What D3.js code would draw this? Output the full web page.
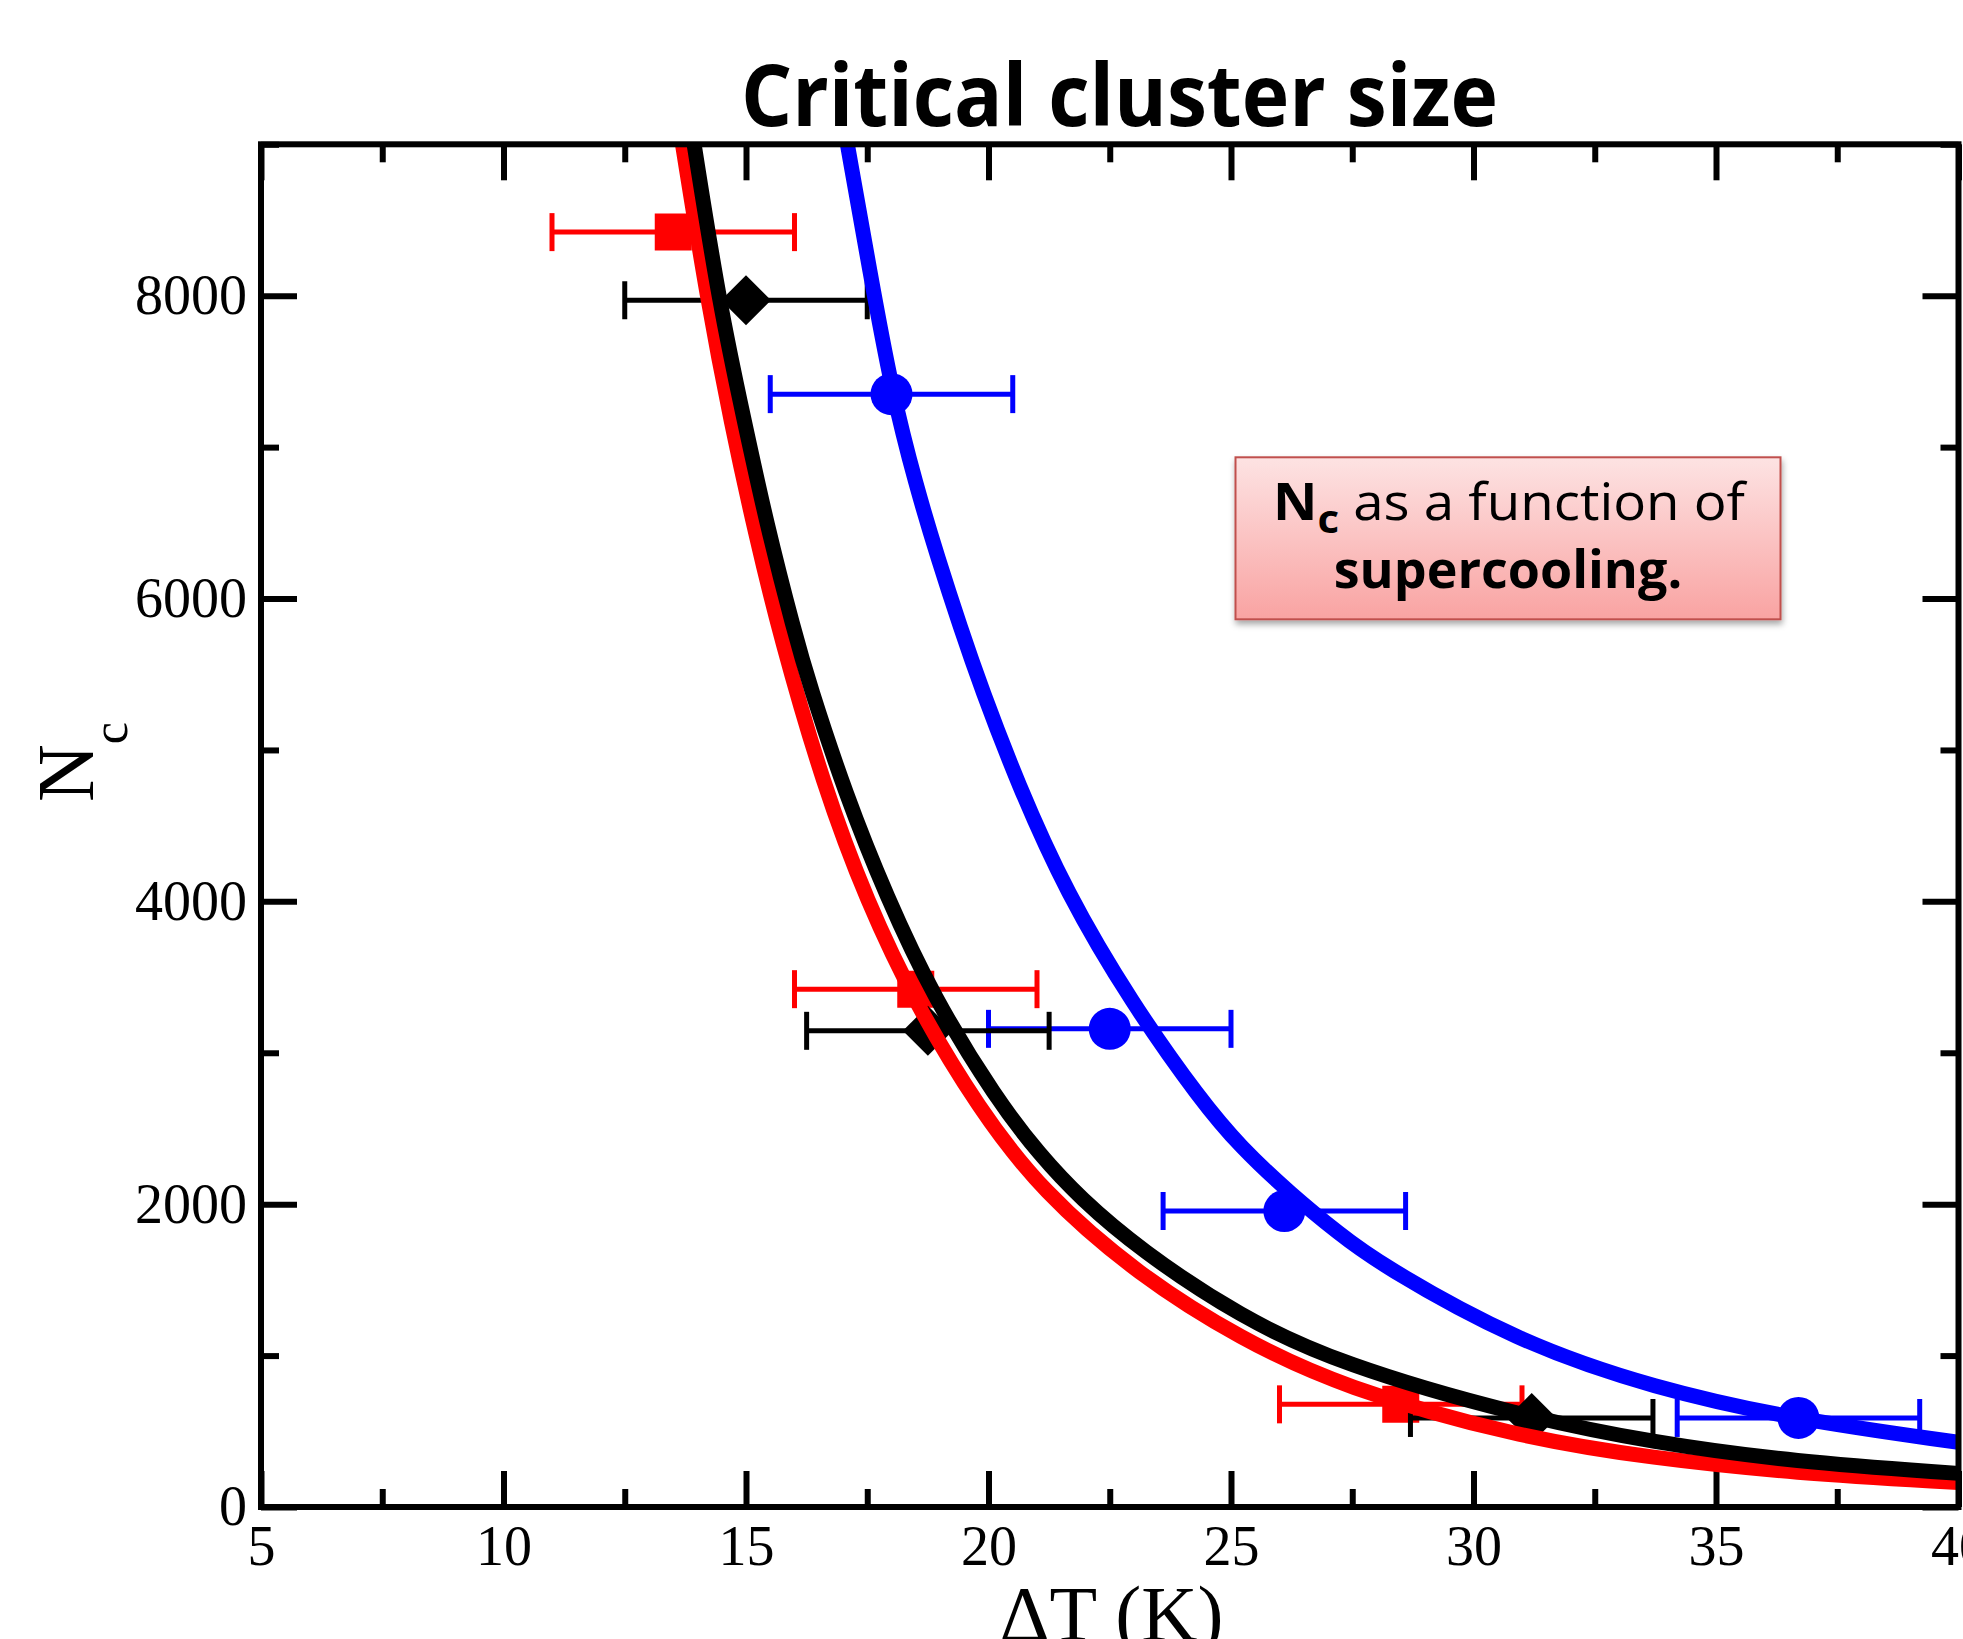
<!DOCTYPE html>
<html>
<head>
<meta charset="utf-8">
<script src="https://cdn.jsdelivr.net/npm/d3@7"></script>
<style>
  body { margin: 0; background: #fff; }
  svg { display: block; }
  text { white-space: pre; }
</style>
</head>
<body>
<div id="chart"></div>
<script>
// fitted curves (deltaT in K, Nc)
var redCurveX = [13.69, 14.2, 14.7, 15.2, 15.7, 16.6, 17.5, 18.5, 19.8, 21.1, 23.1, 25.2, 27.3, 30.9, 33.7, 36.6, 40];
var redCurveY = [9000, 7980, 7150, 6420, 5760, 4760, 3995, 3320, 2630, 2085, 1530, 1110, 790, 462, 322, 224, 162];

var blackCurveX = [13.93, 14.46, 14.96, 15.42, 16.0, 16.3, 17.05, 17.9, 18.86, 20.17, 21.06, 21.89, 23.12, 25.19, 27.25, 30.89, 33.74, 36.59, 40];
var blackCurveY = [9000, 7930, 7180, 6500, 5775, 5440, 4710, 4030, 3370, 2690, 2325, 2040, 1700, 1255, 945, 607, 423, 300, 222];

var blueCurveX = [17.09, 17.56, 18.0, 18.51, 18.96, 19.43, 19.85, 20.6, 21.6, 22.95, 24.39, 25.19, 26.22, 27.25, 28.04, 30.89, 33.74, 36.59, 40];
var blueCurveY = [9000, 8150, 7380, 6740, 6264, 5800, 5410, 4780, 4060, 3330, 2680, 2380, 2070, 1800, 1610, 1092, 784, 580, 427];

// measured points with horizontal error bars
var redX = [13.5, 18.5, 28.5];
var redY = [8420, 3420, 678];
var redErr = [2.5, 2.5, 2.5];

var blackX = [15.0, 18.75, 31.2];
var blackY = [7970, 3145, 588];
var blackErr = [2.5, 2.5, 2.5];

var blueX = [18.0, 22.5, 26.1, 36.7];
var blueY = [7350, 3158, 1955, 588];
var blueErr = [2.5, 2.5, 2.5, 2.5];

// ticks
var xMajor = [5, 10, 15, 20, 25, 30, 35, 40];
var xMinor = [7.5, 12.5, 17.5, 22.5, 27.5, 32.5, 37.5];
var yMajor = [0, 2000, 4000, 6000, 8000];
var yMinor = [1000, 3000, 5000, 7000, 9000];

var titleText = "Critical cluster size";
var xLabel = "\u0394T (K)";
var noteLine2 = "supercooling.";

var width = 1963, height = 1639;
var margin = { top: 144.3, right: 4.5, bottom: 132, left: 261 };

var svg = d3.select("#chart")
    .append("svg")
    .attr("width", width)
    .attr("height", height);

var x = d3.scaleLinear()
    .domain([5, 40])
    .range([margin.left, width - margin.right]);
var y = d3.scaleLinear()
    .domain([0, 9000])
    .range([height - margin.bottom, margin.top]);

var defs = svg.append("defs");
defs.append("clipPath").attr("id", "plotclip")
    .append("rect")
    .attr("x", x(5)).attr("y", y(9000) - 8)
    .attr("width", x(40) - x(5)).attr("height", y(0) - y(9000) + 8);

var grad = defs.append("linearGradient").attr("id", "notegrad")
    .attr("x1", 0).attr("y1", 0).attr("x2", 0).attr("y2", 1);
grad.append("stop").attr("offset", "0%").attr("stop-color", "#fde3e3");
grad.append("stop").attr("offset", "100%").attr("stop-color", "#f9a3a2");

var shadow = defs.append("filter").attr("id", "noteshadow")
    .attr("x", "-10%").attr("y", "-10%").attr("width", "130%").attr("height", "140%");
shadow.append("feDropShadow")
    .attr("dx", 1).attr("dy", 4).attr("stdDeviation", 3)
    .attr("flood-color", "#000").attr("flood-opacity", 0.35);

// axes: ticks point inward on all four sides
function styleAxis(g) {
    g.select(".domain").remove();
    g.selectAll(".tick line").attr("stroke", "#000").attr("stroke-width", 6);
    g.selectAll(".tick text")
        .attr("fill", "#000")
        .style("font-family", "'Liberation Serif', 'Times New Roman', serif")
        .style("font-size", "56px");
}

var yBase = y(0), xBase = x(5);

svg.append("g").attr("transform", "translate(0," + yBase + ")")
    .call(d3.axisBottom(x).tickValues(xMajor).tickSize(-36).tickSizeOuter(0).tickPadding(18).tickFormat(d3.format("d")))
    .call(styleAxis);
svg.append("g").attr("transform", "translate(0," + yBase + ")")
    .call(d3.axisBottom(x).tickValues(xMinor).tickSize(-18).tickSizeOuter(0).tickFormat(""))
    .call(styleAxis);
svg.append("g").attr("transform", "translate(0," + y(9000) + ")")
    .call(d3.axisTop(x).tickValues(xMajor).tickSize(-36).tickSizeOuter(0).tickFormat(""))
    .call(styleAxis);
svg.append("g").attr("transform", "translate(0," + y(9000) + ")")
    .call(d3.axisTop(x).tickValues(xMinor).tickSize(-18).tickSizeOuter(0).tickFormat(""))
    .call(styleAxis);

svg.append("g").attr("transform", "translate(" + xBase + ",0)")
    .call(d3.axisLeft(y).tickValues(yMajor).tickSize(-36).tickSizeOuter(0).tickPadding(14).tickFormat(d3.format("d")))
    .call(styleAxis);
svg.append("g").attr("transform", "translate(" + xBase + ",0)")
    .call(d3.axisLeft(y).tickValues(yMinor).tickSize(-18).tickSizeOuter(0).tickFormat(""))
    .call(styleAxis);
svg.append("g").attr("transform", "translate(" + x(40) + ",0)")
    .call(d3.axisRight(y).tickValues(yMajor).tickSize(-36).tickSizeOuter(0).tickFormat(""))
    .call(styleAxis);
svg.append("g").attr("transform", "translate(" + x(40) + ",0)")
    .call(d3.axisRight(y).tickValues(yMinor).tickSize(-18).tickSizeOuter(0).tickFormat(""))
    .call(styleAxis);

// error bars + markers
function zip(xs, ys, es) {
    return xs.map(function (v, i) { return { x: v, y: ys[i], e: es[i] }; });
}

function drawPoints(data, color, symbolType, size, rotate) {
    var g = svg.append("g");
    var bars = g.selectAll(".err").data(data).enter().append("g");
    bars.append("line")
        .attr("x1", function (d) { return x(d.x - d.e); })
        .attr("x2", function (d) { return x(d.x + d.e); })
        .attr("y1", function (d) { return y(d.y); })
        .attr("y2", function (d) { return y(d.y); })
        .attr("stroke", color).attr("stroke-width", 5);
    [-1, 1].forEach(function (side) {
        bars.append("line")
            .attr("x1", function (d) { return x(d.x + side * d.e); })
            .attr("x2", function (d) { return x(d.x + side * d.e); })
            .attr("y1", function (d) { return y(d.y) - 19; })
            .attr("y2", function (d) { return y(d.y) + 19; })
            .attr("stroke", color).attr("stroke-width", 5);
    });
    g.selectAll(".mark").data(data).enter().append("path")
        .attr("d", d3.symbol().type(symbolType).size(size))
        .attr("transform", function (d) {
            return "translate(" + x(d.x) + "," + y(d.y) + ") rotate(" + rotate + ")";
        })
        .attr("fill", color);
}

drawPoints(zip(blueX, blueY, blueErr), "#0000ff", d3.symbolCircle, 1385, 0);
drawPoints(zip(redX, redY, redErr), "#ff0000", d3.symbolSquare, 1369, 0);
drawPoints(zip(blackX, blackY, blackErr), "#000000", d3.symbolSquare, 1250, 45);

// curves
var line = d3.line()
    .x(function (d) { return x(d[0]); })
    .y(function (d) { return y(d[1]); })
    .curve(d3.curveBasis);

var curves = svg.append("g").attr("clip-path", "url(#plotclip)");
[[redCurveX, redCurveY, "#ff0000"], [blackCurveX, blackCurveY, "#000000"], [blueCurveX, blueCurveY, "#0000ff"]]
    .forEach(function (c) {
        curves.append("path")
            .datum(d3.zip(c[0], c[1]))
            .attr("d", line)
            .attr("fill", "none")
            .attr("stroke", c[2])
            .attr("stroke-width", 15);
    });

// frame
svg.append("rect")
    .attr("x", x(5)).attr("y", y(9000))
    .attr("width", x(40) - x(5)).attr("height", y(0) - y(9000))
    .attr("fill", "none").attr("stroke", "#000").attr("stroke-width", 6);

// title
svg.append("text")
    .attr("x", 1119.5).attr("y", 126)
    .attr("text-anchor", "middle")
    .attr("textLength", 757).attr("lengthAdjust", "spacingAndGlyphs")
    .style("font-family", "'Open Sans', sans-serif")
    .style("font-weight", "bold")
    .style("font-size", "86px")
    .text(titleText);

// axis labels
svg.append("text")
    .attr("x", 1111.5).attr("y", 1640)
    .attr("text-anchor", "middle")
    .style("font-family", "'Liberation Serif', 'Times New Roman', serif")
    .style("font-size", "78px")
    .text(xLabel);

var yl = svg.append("text")
    .attr("transform", "translate(93,802) rotate(-90)")
    .style("font-family", "'Liberation Serif', 'Times New Roman', serif")
    .style("font-size", "80px");
yl.append("tspan").text("N");
yl.append("tspan").attr("dy", 34).style("font-size", "50px").text("c");

// note box
svg.append("rect")
    .attr("x", 1235.5).attr("y", 457.3)
    .attr("width", 545).attr("height", 162)
    .attr("fill", "url(#notegrad)")
    .attr("stroke", "#c0504d").attr("stroke-width", 2)
    .attr("filter", "url(#noteshadow)");

var note1 = svg.append("text")
    .attr("x", 1509).attr("y", 520)
    .attr("text-anchor", "middle")
    .attr("textLength", 472).attr("lengthAdjust", "spacingAndGlyphs")
    .style("font-family", "'Open Sans', sans-serif")
    .style("font-size", "52px");
note1.append("tspan").style("font-weight", "bold").text("N");
note1.append("tspan").attr("dy", 13).style("font-weight", "bold").style("font-size", "40px").text("c");
note1.append("tspan").attr("dy", -13).text(" as a function of");

svg.append("text")
    .attr("x", 1508).attr("y", 588)
    .attr("text-anchor", "middle")
    .style("font-family", "'Open Sans', sans-serif")
    .style("font-weight", "bold")
    .style("font-size", "52px")
    .text(noteLine2);
</script>
</body>
</html>
